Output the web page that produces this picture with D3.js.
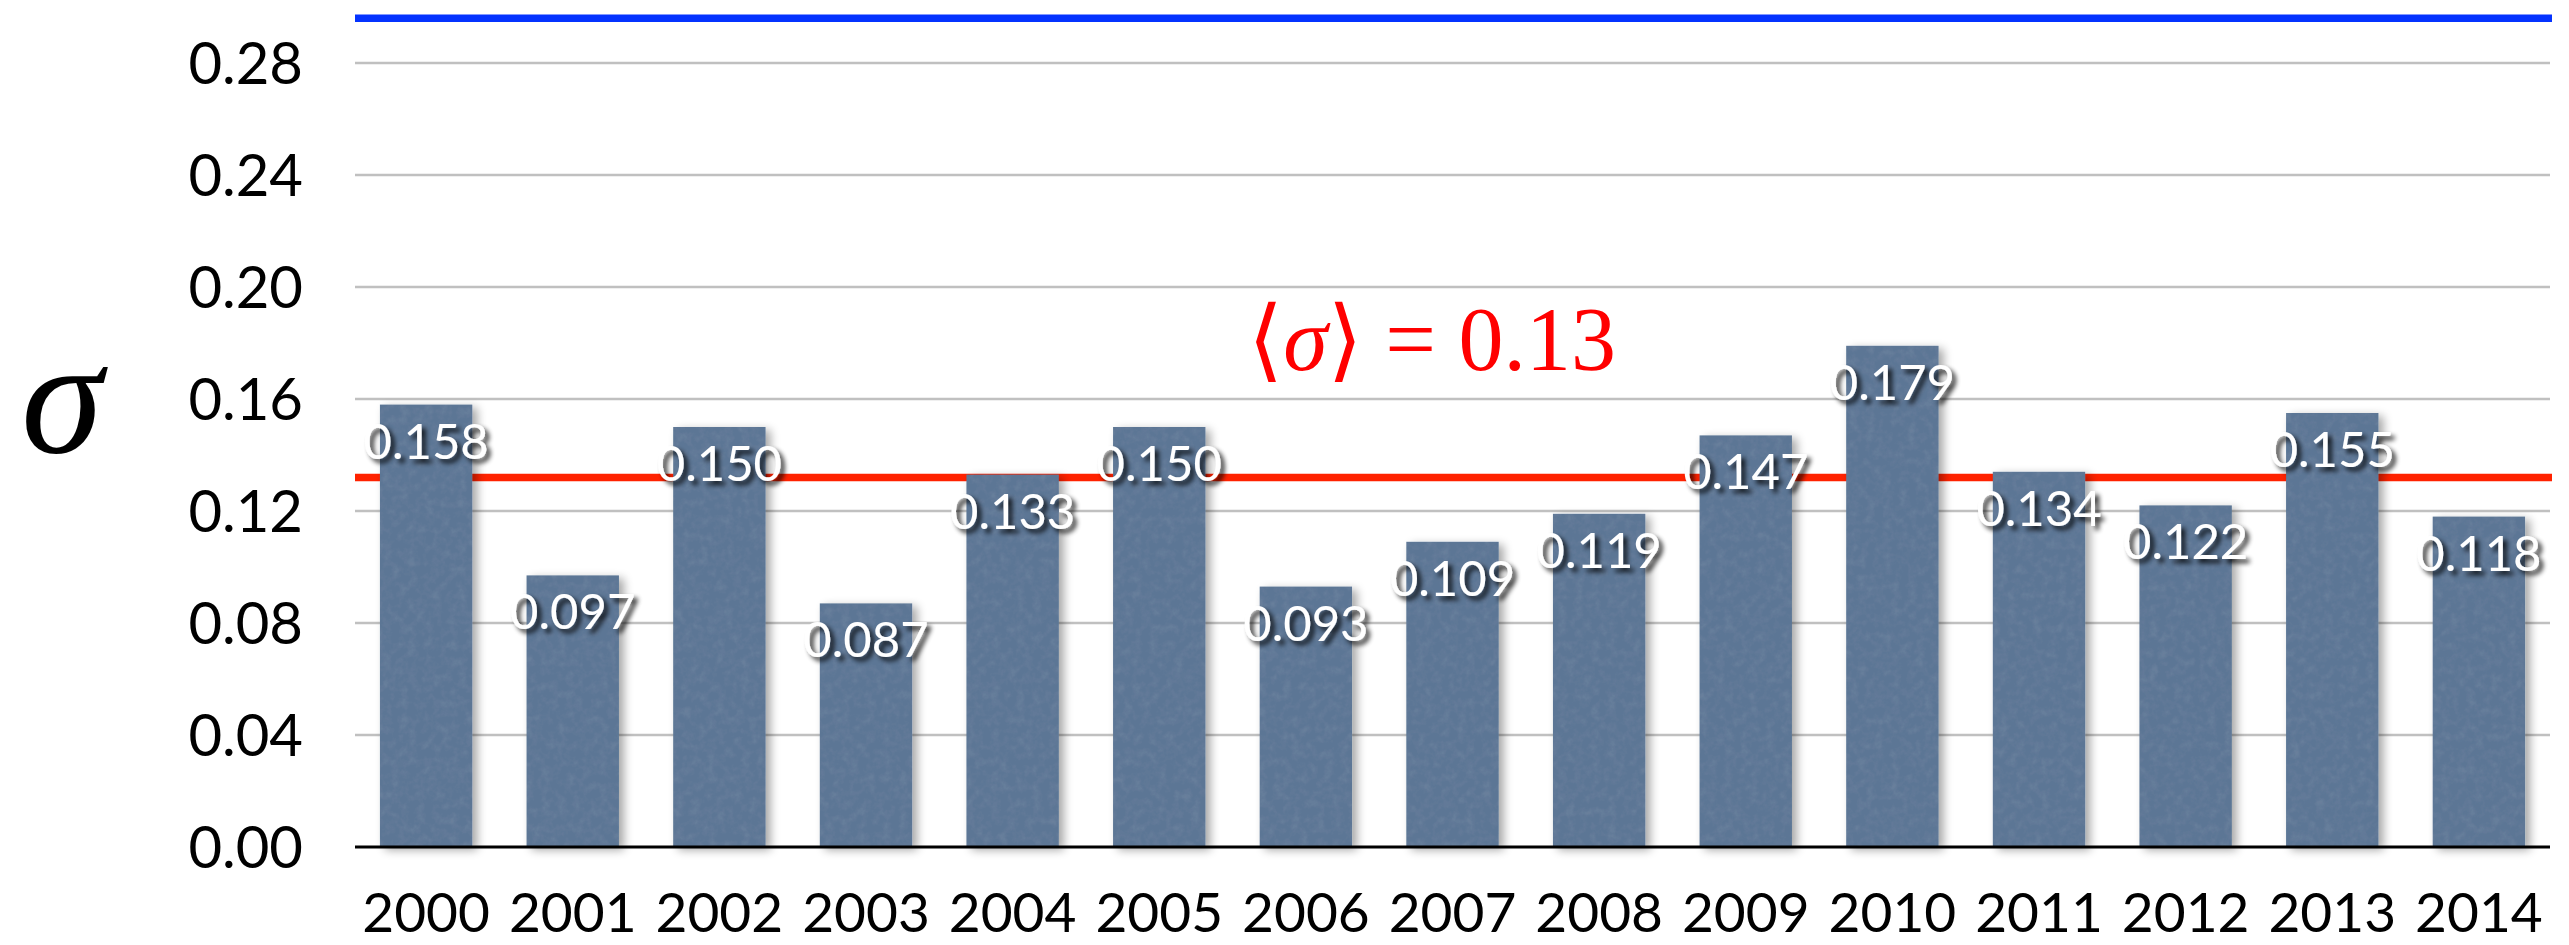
<!DOCTYPE html>
<html>
<head>
<meta charset="utf-8">
<script src="https://cdn.jsdelivr.net/npm/d3@7"></script>
<style>
  html, body { margin: 0; padding: 0; background: #ffffff; }
  svg { display: block; }
</style>
</head>
<body>
<div id="chart"></div>
<script>
// ---- data ----
const years = ["2000","2001","2002","2003","2004","2005","2006","2007","2008","2009","2010","2011","2012","2013","2014"];
const sigmaValues = [0.158, 0.097, 0.150, 0.087, 0.133, 0.150, 0.093, 0.109, 0.119, 0.147, 0.179, 0.134, 0.122, 0.155, 0.118];
const yTicks = [0.00, 0.04, 0.08, 0.12, 0.16, 0.20, 0.24, 0.28];
const meanSigma = 0.132;
const upperLine = 0.296;
const yLabel = "σ";
const meanLabel = "0.13";

// ---- layout ----
const W = 2569, H = 945;
const plotLeft = 355, plotRight = 2550, plotBottom = 847;

const svg = d3.select("#chart").append("svg")
  .attr("width", W).attr("height", H)
  .attr("viewBox", `0 0 ${W} ${H}`);

const defs = svg.append("defs");
const barFilter = defs.append("filter").attr("id", "barShadow")
  .attr("x", "-20%").attr("y", "-10%").attr("width", "150%").attr("height", "130%");
barFilter.append("feTurbulence").attr("type", "fractalNoise").attr("baseFrequency", "0.12")
  .attr("numOctaves", 3).attr("seed", 4).attr("result", "noise");
barFilter.append("feColorMatrix").attr("in", "noise").attr("type", "matrix")
  .attr("values", "0 0 0 0 1  0 0 0 0 1  0 0 0 0 1  0.9 0 0 0 -0.35").attr("result", "noiseA");
barFilter.append("feComposite").attr("in", "noiseA").attr("in2", "SourceGraphic")
  .attr("operator", "in").attr("result", "noiseClip");
barFilter.append("feComponentTransfer").attr("in", "noiseClip").attr("result", "noiseSoft")
  .append("feFuncA").attr("type", "linear").attr("slope", 0.09);
barFilter.append("feGaussianBlur").attr("in", "SourceAlpha").attr("stdDeviation", 5).attr("result", "blur");
barFilter.append("feOffset").attr("in", "blur").attr("dx", 5).attr("dy", 3).attr("result", "offBlur");
barFilter.append("feComponentTransfer").attr("in", "offBlur").attr("result", "shadow")
  .append("feFuncA").attr("type", "linear").attr("slope", 0.35);
const m1 = barFilter.append("feMerge");
m1.append("feMergeNode").attr("in", "shadow");
m1.append("feMergeNode").attr("in", "SourceGraphic");
m1.append("feMergeNode").attr("in", "noiseSoft");

const txtFilter = defs.append("filter").attr("id", "textShadow")
  .attr("x", "-20%").attr("y", "-30%").attr("width", "150%").attr("height", "170%");
txtFilter.append("feGaussianBlur").attr("in", "SourceAlpha").attr("stdDeviation", 2.5).attr("result", "b");
txtFilter.append("feOffset").attr("in", "b").attr("dx", 4).attr("dy", 4).attr("result", "ob");
txtFilter.append("feComponentTransfer").attr("in", "ob").attr("result", "sh")
  .append("feFuncA").attr("type", "linear").attr("slope", 0.85);
const m2 = txtFilter.append("feMerge");
m2.append("feMergeNode").attr("in", "sh");
m2.append("feMergeNode").attr("in", "SourceGraphic");

// ---- scales ----
const x = d3.scaleBand().domain(years).range([plotLeft, plotRight]).paddingInner(0.37).paddingOuter(0.17);
const y = d3.scaleLinear().domain([0, 0.28]).range([plotBottom, plotBottom - 0.28 * 2800]);

// gridlines
svg.append("g").selectAll("line").data(yTicks.filter(d => d > 0)).join("line")
  .attr("x1", plotLeft).attr("x2", plotRight)
  .attr("y1", d => y(d)).attr("y2", d => y(d))
  .attr("stroke", "#c0c0c0").attr("stroke-width", 2.5);

// y axis labels
const yAxis = d3.axisLeft(y).tickValues(yTicks).tickFormat(d3.format(".2f")).tickSize(0).tickPadding(0);
const gy = svg.append("g").attr("transform", `translate(303,0)`).call(yAxis);
gy.select(".domain").remove();
gy.selectAll("text")
  .attr("font-family", "Lato, 'Open Sans', sans-serif")
  .attr("font-size", 58).attr("fill", "#000")
  .attr("dy", "0.36em");

// mean line (behind bars)
svg.append("line")
  .attr("x1", plotLeft).attr("x2", plotRight + 2)
  .attr("y1", y(meanSigma)).attr("y2", y(meanSigma))
  .attr("stroke", "#ff2200").attr("stroke-width", 7.5);

// upper blue line
svg.append("line")
  .attr("x1", plotLeft).attr("x2", plotRight + 2)
  .attr("y1", y(upperLine)).attr("y2", y(upperLine))
  .attr("stroke", "#0433ff").attr("stroke-width", 7.5);

// bars
svg.append("g").selectAll("rect").data(years).join("rect")
  .attr("x", d => x(d)).attr("width", x.bandwidth())
  .attr("y", (d, i) => y(sigmaValues[i]))
  .attr("height", (d, i) => y(0) - y(sigmaValues[i]))
  .attr("fill", "#5b7695")
  .attr("filter", "url(#barShadow)");

// baseline
svg.append("line").attr("x1", plotLeft).attr("x2", plotRight)
  .attr("y1", y(0)).attr("y2", y(0))
  .attr("stroke", "#000").attr("stroke-width", 3);

// x axis labels
const xAxis = d3.axisBottom(x).tickSize(0).tickPadding(0);
const gx = svg.append("g").attr("transform", `translate(0,${plotBottom})`).call(xAxis);
gx.select(".domain").remove();
gx.selectAll("text")
  .attr("font-family", "Lato, 'Open Sans', sans-serif")
  .attr("font-size", 55).attr("fill", "#000")
  .attr("dy", null).attr("y", 85);

// value labels
svg.append("g").selectAll("text").data(years).join("text")
  .attr("x", d => x(d) + x.bandwidth() / 2)
  .attr("y", (d, i) => y(sigmaValues[i]) + 54)
  .attr("text-anchor", "middle")
  .attr("font-family", "Lato, 'Open Sans', sans-serif")
  .attr("font-size", 49).attr("fill", "#fff")
  .attr("filter", "url(#textShadow)")
  .text((d, i) => d3.format(".3f")(sigmaValues[i]));

// y label sigma
svg.append("text")
  .attr("x", 62).attr("y", 452)
  .attr("text-anchor", "middle")
  .attr("font-family", "'Liberation Serif', 'DejaVu Serif', serif")
  .attr("font-style", "italic")
  .attr("font-size", 165)
  .attr("fill", "#000")
  .text(yLabel);

// mean annotation
const ann = svg.append("text")
  .attr("x", 1432).attr("y", 370)
  .attr("text-anchor", "middle")
  .attr("font-family", "'Liberation Serif', 'DejaVu Serif', serif")
  .attr("font-size", 90)
  .attr("fill", "#ff0000");
ann.append("tspan").text("⟨");
ann.append("tspan").attr("font-style", "italic").text("σ");
ann.append("tspan").text("⟩ = " + meanLabel);
</script>
</body>
</html>
